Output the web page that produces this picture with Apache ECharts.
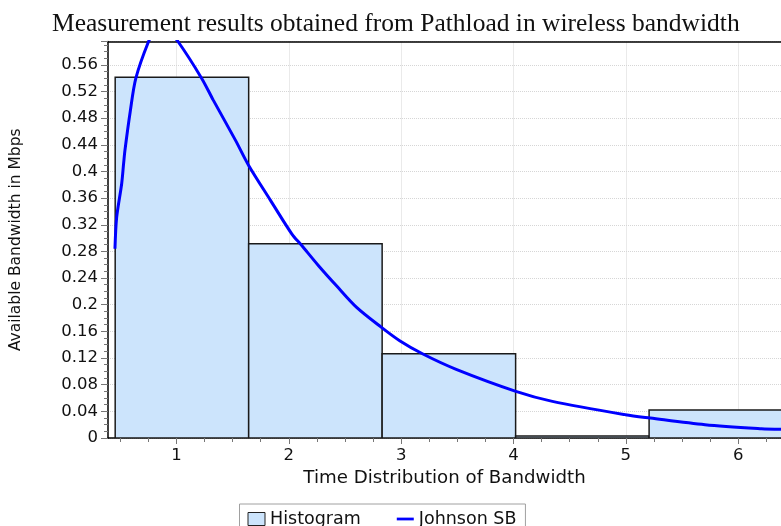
<!DOCTYPE html>
<html>
<head>
<meta charset="utf-8">
<script src="https://cdn.jsdelivr.net/npm/echarts@6/dist/echarts.min.js"></script>
<style>
  html, body { margin: 0; padding: 0; background: #fff; }
  #chart { width: 781px; height: 526px; }
</style>
</head>
<body>
<div id="chart"></div>
<script>
// ---- data ----
const titleText = 'Measurement results obtained from Pathload in wireless bandwidth';
const xName = 'Time Distribution of Bandwidth';
const yName = 'Available Bandwidth in Mbps';

// histogram bins (edges) and heights
const binEdges = [0.455, 1.643, 2.831, 4.019, 5.207, 6.395];
const binHeights = [0.5415, 0.2915, 0.1266, 0.003, 0.0422];

// Johnson SB fitted curve
const johnsonX = [0.453, 0.468, 0.513, 0.530, 0.542, 0.589, 0.639, 0.752, 0.800, 0.860, 0.930, 1.014,
  1.224, 1.328, 1.525, 1.643, 1.836, 2.028, 2.110, 2.263, 2.427, 2.604, 2.825,
  2.987, 3.194, 3.490, 4.021, 4.346, 4.996, 5.218, 5.705, 6.207, 6.381];
const johnsonY = [0.284, 0.331, 0.382, 0.412, 0.432, 0.490, 0.540, 0.595, 0.608, 0.614, 0.610, 0.595,
  0.540, 0.507, 0.447, 0.409, 0.357, 0.306, 0.290, 0.259, 0.228, 0.196, 0.166,
  0.146, 0.126, 0.103, 0.070, 0.055, 0.035, 0.030, 0.020, 0.014, 0.013];

// axes
const xTicks = [1, 2, 3, 4, 5, 6];
const xMinorTicks = [0.5, 0.75, 1.25, 1.5, 1.75, 2.25, 2.5, 2.75, 3.25, 3.5, 3.75,
  4.25, 4.5, 4.75, 5.25, 5.5, 5.75, 6.25];
const xMin = 0.391, xMax = 6.381;
const yMin = 0, yMax = 0.595, yInterval = 0.04;

// ---- chart ----
const histData = binHeights.map((h, i) => [binEdges[i], binEdges[i + 1], h]);
const curveData = johnsonX.map((x, i) => [x, johnsonY[i]]);

const sans = 'DejaVu Sans';
const chart = echarts.init(document.getElementById('chart'), null, { renderer: 'canvas' });

chart.setOption({
  animation: false,
  backgroundColor: '#ffffff',
  title: {
    text: titleText,
    left: 47,
    top: 6,
    textStyle: { fontFamily: 'Liberation Serif', fontSize: 25.5, fontWeight: 'normal', color: '#111' }
  },
  grid: {
    left: 107, top: 41.5, right: -2, bottom: 88
  },
  legend: {
    top: 504,
    left: 239.5,
    orient: 'horizontal',
    padding: [6, 9, 9, 8],
    itemGap: 36,
    itemWidth: 17,
    itemHeight: 13,
    borderColor: '#a0a0a0',
    borderWidth: 1,
    textStyle: { fontFamily: sans, fontSize: 17.5, color: '#111' },
    data: [
      { name: 'Histogram', icon: 'rect', itemStyle: { color: '#cce4fc', borderColor: '#222', borderWidth: 1 } },
      { name: 'Johnson SB', icon: 'path://M0,0 L16,0 L16,2.6 L0,2.6 Z', itemStyle: { color: '#0000ff' } }
    ]
  },
  xAxis: [
    {
      type: 'value', min: xMin, max: xMax, position: 'bottom',
      name: xName, nameLocation: 'middle', nameGap: 28,
      nameTextStyle: { fontFamily: sans, fontSize: 18.2, color: '#111' },
      axisLine: { onZero: false, lineStyle: { color: '#000', width: 1.5 } },
      axisTick: { customValues: xTicks, length: 6, lineStyle: { color: '#777', width: 1 } },
      axisLabel: {
        customValues: xTicks, margin: 9,
        fontFamily: sans, fontSize: 16.5, color: '#111',
        formatter: v => (Math.abs(v - Math.round(v)) < 1e-6 ? String(Math.round(v)) : '')
      },
      splitLine: { show: true, lineStyle: { type: 'dotted', color: '#d6d6d6', width: 1 } }
    },
    {
      type: 'value', min: xMin, max: xMax, position: 'bottom',
      axisLine: { show: false, onZero: false },
      axisTick: { customValues: xMinorTicks, length: 4, lineStyle: { color: '#777', width: 1 } },
      axisLabel: { show: false },
      splitLine: { show: false }
    },
    {
      type: 'value', min: xMin, max: xMax, position: 'top',
      axisLine: { show: true, onZero: false, lineStyle: { color: '#000', width: 1.5 } },
      axisTick: { show: false },
      axisLabel: { show: false },
      splitLine: { show: false }
    }
  ],
  yAxis: {
    type: 'value', min: yMin, max: yMax, interval: yInterval,
    name: yName, nameLocation: 'middle', nameGap: 84,
    nameTextStyle: { fontFamily: sans, fontSize: 15.5, color: '#111' },
    axisLine: { show: true, onZero: false, lineStyle: { color: '#000', width: 1.5 } },
    axisTick: { show: true, length: 7, lineStyle: { color: '#777', width: 1 } },
    minorTick: { show: true, splitNumber: 4, length: 4, lineStyle: { color: '#777', width: 1 } },
    axisLabel: {
      margin: 10, fontFamily: sans, fontSize: 16.5, color: '#111', showMaxLabel: false,
      formatter: v => String(Math.round(v * 100) / 100)
    },
    splitLine: { show: true, lineStyle: { type: 'dotted', color: '#d6d6d6', width: 1 } }
  },
  series: [
    {
      name: 'Histogram',
      type: 'custom',
      xAxisIndex: 0,
      clip: true,
      itemStyle: { color: '#cce4fc', borderColor: '#222', borderWidth: 1 },
      encode: { x: [0, 1], y: 2 },
      data: histData,
      renderItem: function (params, api) {
        const p0 = api.coord([api.value(0), api.value(2)]);
        const p1 = api.coord([api.value(1), 0]);
        return {
          type: 'rect',
          shape: { x: p0[0], y: p0[1], width: p1[0] - p0[0], height: p1[1] - p0[1] },
          style: { fill: '#cce4fc', stroke: '#1a1a1a', lineWidth: 1.5 }
        };
      },
      z: 2
    },
    {
      name: 'Johnson SB',
      type: 'line',
      xAxisIndex: 0,
      data: curveData,
      showSymbol: false,
      symbol: 'none',
      smooth: 0.3,
      clip: true,
      lineStyle: { color: '#0000ff', width: 3 },
      itemStyle: { color: '#0000ff' },
      z: 3
    }
  ]
});
</script>
</body>
</html>
